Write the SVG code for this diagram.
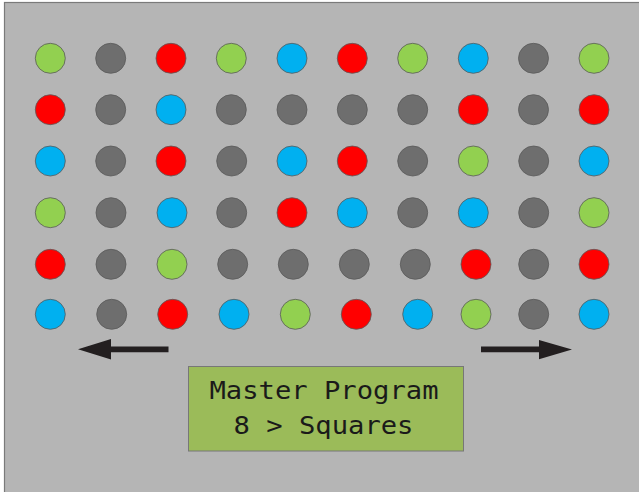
<svg xmlns="http://www.w3.org/2000/svg" width="639" height="492" viewBox="0 0 639 492">
<defs>
<style>
.bg{fill:#b5b5b5;stroke:#7a7a7a;stroke-width:1.2}
circle{stroke:#5a5a5a;stroke-width:1;stroke-opacity:0.8}
.g{fill:#92d050}
.k{fill:#6e6e6e}
.r{fill:#ff0000}
.b{fill:#00b0f0}
.box{fill:#9bbb59;stroke:#777;stroke-width:1}
.t{font-family:"DejaVu Sans Mono","Liberation Mono",monospace;font-size:24px;fill:#1a1a1a}
.arrow{fill:#231f20}
</style>
</defs>
<rect class="bg" x="4.5" y="2.5" width="640" height="495"/>
<g id="dots">
<g id="row1">
<circle class="g" cx="50.3" cy="58.3" r="15"/>
<circle class="k" cx="110.7" cy="58.3" r="15"/>
<circle class="r" cx="171" cy="58.3" r="15"/>
<circle class="g" cx="231.3" cy="58.3" r="15"/>
<circle class="b" cx="292" cy="58.3" r="15"/>
<circle class="r" cx="352.3" cy="58.3" r="15"/>
<circle class="g" cx="412.7" cy="58.3" r="15"/>
<circle class="b" cx="473.3" cy="58.3" r="15"/>
<circle class="k" cx="533.5" cy="58.3" r="15"/>
<circle class="g" cx="594" cy="58.3" r="15"/>
</g>
<g id="row2">
<circle class="r" cx="50.3" cy="109.7" r="15"/>
<circle class="k" cx="110.7" cy="109.7" r="15"/>
<circle class="b" cx="171" cy="109.7" r="15"/>
<circle class="k" cx="231.3" cy="109.7" r="15"/>
<circle class="k" cx="292" cy="109.7" r="15"/>
<circle class="k" cx="352.3" cy="109.7" r="15"/>
<circle class="k" cx="412.7" cy="109.7" r="15"/>
<circle class="r" cx="473.3" cy="109.7" r="15"/>
<circle class="k" cx="533.5" cy="109.7" r="15"/>
<circle class="r" cx="594" cy="109.7" r="15"/>
</g>
<g id="row3">
<circle class="b" cx="50.3" cy="161" r="15"/>
<circle class="k" cx="110.7" cy="161" r="15"/>
<circle class="r" cx="171" cy="161" r="15"/>
<circle class="k" cx="231.7" cy="161" r="15"/>
<circle class="b" cx="292" cy="161" r="15"/>
<circle class="r" cx="352.3" cy="161" r="15"/>
<circle class="k" cx="412.7" cy="161" r="15"/>
<circle class="g" cx="473.3" cy="161" r="15"/>
<circle class="k" cx="533.7" cy="161" r="15"/>
<circle class="b" cx="594" cy="161" r="15"/>
</g>
<g id="row4">
<circle class="g" cx="50.3" cy="212.7" r="15"/>
<circle class="k" cx="111" cy="212.7" r="15"/>
<circle class="b" cx="172" cy="212.7" r="15"/>
<circle class="k" cx="231.7" cy="212.7" r="15"/>
<circle class="r" cx="292" cy="212.7" r="15"/>
<circle class="b" cx="352.3" cy="212.7" r="15"/>
<circle class="k" cx="412.7" cy="212.7" r="15"/>
<circle class="b" cx="473.3" cy="212.7" r="15"/>
<circle class="k" cx="533.7" cy="212.7" r="15"/>
<circle class="g" cx="594" cy="212.7" r="15"/>
</g>
<g id="row5">
<circle class="r" cx="50.3" cy="264.3" r="15"/>
<circle class="k" cx="111" cy="264.3" r="15"/>
<circle class="g" cx="172" cy="264.3" r="15"/>
<circle class="k" cx="232.7" cy="264.3" r="15"/>
<circle class="k" cx="293.3" cy="264.3" r="15"/>
<circle class="k" cx="354.3" cy="264.3" r="15"/>
<circle class="k" cx="415.3" cy="264.3" r="15"/>
<circle class="r" cx="476" cy="264.3" r="15"/>
<circle class="k" cx="533.7" cy="264.3" r="15"/>
<circle class="r" cx="594" cy="264.3" r="15"/>
</g>
<g id="row6">
<circle class="b" cx="50.3" cy="314.3" r="15"/>
<circle class="k" cx="111.7" cy="314.3" r="15"/>
<circle class="r" cx="172.7" cy="314.3" r="15"/>
<circle class="b" cx="234" cy="314.3" r="15"/>
<circle class="g" cx="295.3" cy="314.3" r="15"/>
<circle class="r" cx="356.3" cy="314.3" r="15"/>
<circle class="b" cx="417.7" cy="314.3" r="15"/>
<circle class="g" cx="476" cy="314.3" r="15"/>
<circle class="k" cx="533.7" cy="314.3" r="15"/>
<circle class="b" cx="594" cy="314.3" r="15"/>
</g>
</g>
<g id="connectors">
<path id="arrow-left" class="arrow" d="M168.5,346.5 L111,346.5 L111,339 L78,349.3 L111,359.5 L111,352.2 L168.5,352.2 Z"/>
<path id="arrow-right" class="arrow" d="M481,346.5 L539,346.5 L539,340 L572,349.5 L539,359.3 L539,352.2 L481,352.2 Z"/>
</g>
<g id="master">
<rect class="box" x="188.5" y="366.5" width="275" height="84.5"/>
<text class="t" x="209.5" y="398.5" textLength="229" lengthAdjust="spacingAndGlyphs">Master Program</text>
<text class="t" x="233.5" y="433.5" textLength="180" lengthAdjust="spacingAndGlyphs">8 &gt; Squares</text>
</g>
</svg>
